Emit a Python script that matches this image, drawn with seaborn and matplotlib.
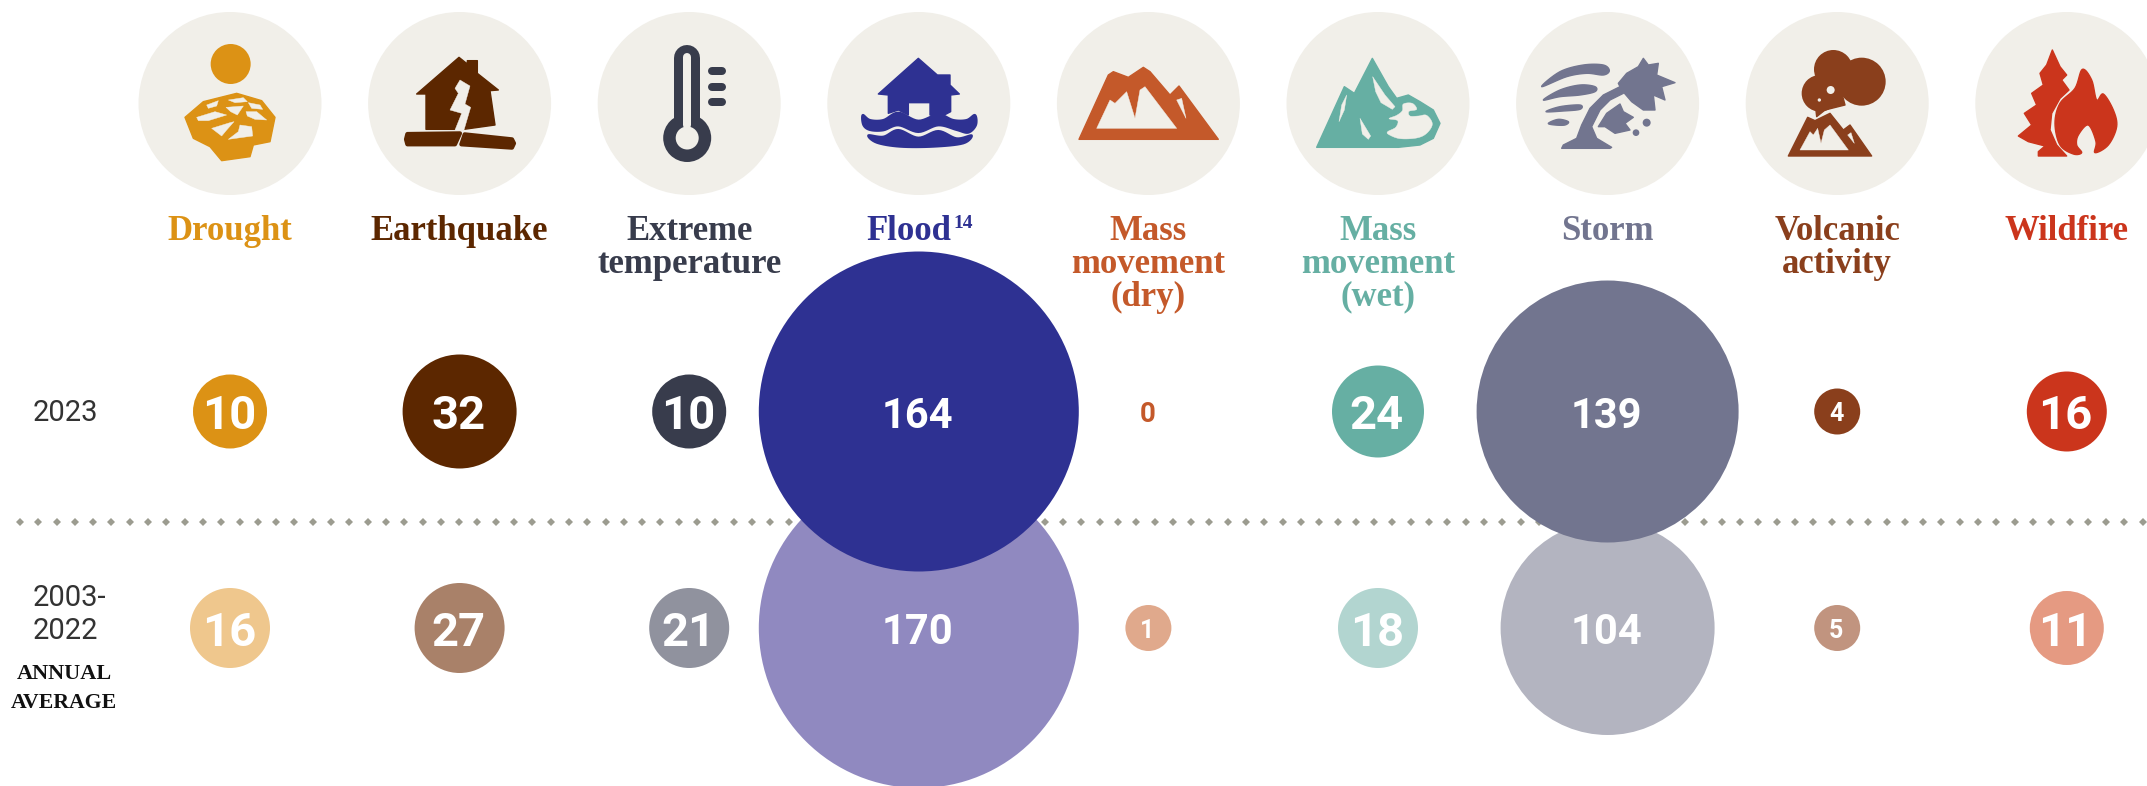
import numpy as np
import pandas as pd
import matplotlib
matplotlib.use('Agg')
import matplotlib.pyplot as plt
from matplotlib.patches import Polygon, Circle
import seaborn as sns

# Chart data
hazards = ['Drought', 'Earthquake', 'Extreme temperature', 'Flood', 'Mass movement (dry)',
           'Mass movement (wet)', 'Storm', 'Volcanic activity', 'Wildfire']
header_lines = [['Drought'], ['Earthquake'], ['Extreme', 'temperature'], ['Flood'],
                ['Mass', 'movement', '(dry)'], ['Mass', 'movement', '(wet)'], ['Storm'],
                ['Volcanic', 'activity'], ['Wildfire']]
values_2023 = [10, 32, 10, 164, 0, 24, 139, 4, 16]
values_avg = [16, 27, 21, 170, 1, 18, 104, 5, 11]

# Bubble radii in pixels, as measured on the reference
radius_2023 = [37, 57, 37, 160, 0, 46, 131, 23, 40]
radius_avg = [40, 45, 40, 160, 23, 40, 107, 23, 37]

dark_colors = ['#DC9215', '#5C2700', '#383C4C', '#2E3192', '#C4592A',
               '#66AFA3', '#72758F', '#8A3F1C', '#CB351C']
light_colors = ['#EFC78D', '#A98169', '#90929E', '#9089C0', '#E0A98C',
                '#B2D5D0', '#B3B4C0', '#C1947F', '#E59A82']
disc_color = '#F1EFE9'

W, H, DPI = 2147, 786, 100
x_first, x_step = 230, 229.6
y_first, y_step = 411.5, 216.5

sns.set_style('white')
plt.rcParams['font.family'] = ['Roboto', 'DejaVu Sans']

fig = plt.figure(figsize=(W / DPI, H / DPI), dpi=DPI, facecolor='white')

# Pixel layer for icons, header text and the divider
pix = fig.add_axes([0, 0, 1, 1], zorder=0)
pix.set_xlim(0, W)
pix.set_ylim(H, 0)
pix.axis('off')

# Data layer for the bubbles
ax = fig.add_axes([0, 0, 1, 1], zorder=1)
ax.patch.set_alpha(0)


def smooth(pts, n=8):
    # closed Catmull-Rom curve through the traced points
    p = np.array(pts, dtype=float)
    out = []
    for i in range(len(p)):
        p0, p1, p2, p3 = p[i - 1], p[i], p[(i + 1) % len(p)], p[(i + 2) % len(p)]
        for t in np.linspace(0, 1, n, endpoint=False):
            out.append(0.5 * (2 * p1 + (p2 - p0) * t + (2 * p0 - 5 * p1 + 4 * p2 - p3) * t ** 2
                              + (3 * p1 - p0 - 3 * p2 + p3) * t ** 3))
    return np.array(out)


def shape(origin, pts, color, curved=False, lw=1.0):
    # pts are traced in 3x crop coordinates, origin is the crop corner
    arr = smooth(pts) if curved else np.array(pts, dtype=float)
    arr = arr / 3 + np.array(origin)
    pix.add_patch(Polygon(arr, closed=True, facecolor=color, edgecolor=color, lw=lw,
                          joinstyle='round', zorder=3))


def dot(origin, x, y, r, color):
    pix.add_patch(Circle((origin[0] + x / 3, origin[1] + y / 3), r / 3, color=color, lw=0, zorder=3))


# Icon discs
for i in range(len(hazards)):
    pix.add_patch(Circle((x_first + i * x_step, 103.5), 91.5, color=disc_color, lw=0, zorder=2))

# Drought
o = (160, 30)
c = dark_colors[0]
dot(o, 212, 102, 60, c)
shape(o, [(75, 262), (130, 215), (230, 190), (305, 212), (345, 262), (330, 335), (280, 345),
          (270, 380), (185, 392), (150, 350), (100, 325)], c)
for crack in [[(140, 225), (175, 212), (170, 228), (145, 235)],
              [(205, 210), (250, 203), (262, 215), (225, 218)],
              [(265, 218), (300, 225), (308, 238), (275, 235)],
              [(198, 232), (250, 228), (232, 255), (212, 245)],
              [(258, 245), (290, 245), (320, 270), (285, 268), (262, 258)],
              [(110, 262), (165, 245), (200, 255), (145, 272), (115, 272)],
              [(155, 295), (210, 278), (222, 275), (200, 300), (185, 318)],
              [(240, 285), (275, 290), (278, 318), (205, 328), (235, 305)]]:
    shape(o, crack, disc_color, lw=0.3)

# Earthquake
o = (390, 30)
c = dark_colors[1]
shape(o, [(80, 192), (207, 82), (232, 102), (232, 92), (262, 92), (262, 130), (325, 180), (300, 182),
          (315, 285), (222, 298), (108, 298), (108, 192)], c)
shape(o, [(210, 150), (240, 168), (225, 222), (242, 232), (222, 300), (195, 300), (215, 250),
          (180, 240), (205, 190), (195, 175)], disc_color, lw=0.3)
shape(o, [(52, 312), (210, 310), (195, 343), (52, 343), (48, 328)], c, lw=3)
shape(o, [(224, 313), (366, 328), (372, 340), (366, 353), (214, 343)], c, lw=3)

# Extreme temperature
cx = x_first + 2 * x_step - 2
c = dark_colors[2]
pix.plot([cx, cx], [58, 130], color=c, lw=26 * 0.72, solid_capstyle='round', zorder=3)
pix.add_patch(Circle((cx, 138), 24, color=c, lw=0, zorder=3))
pix.plot([cx, cx], [57, 125], color=disc_color, lw=8 * 0.72, solid_capstyle='round', zorder=4)
pix.add_patch(Circle((cx, 138), 11.5, color=disc_color, lw=0, zorder=4))
for ty in [71, 87, 102]:
    pix.plot([712, 722], [ty, ty], color=c, lw=8 * 0.72, solid_capstyle='round', zorder=3)

# Flood
o = (850, 30)
c = dark_colors[3]
shape(o, [(85, 192), (205, 85), (262, 135), (300, 135), (300, 165), (328, 192), (302, 195), (302, 245),
          (270, 262), (240, 255), (240, 218), (175, 218), (175, 255), (145, 240), (115, 250), (115, 195)], c)
shape(o, [(38, 255), (60, 270), (100, 270), (145, 248), (205, 272), (265, 253), (310, 270), (350, 270),
          (375, 255), (378, 285), (355, 308), (320, 300), (265, 286), (205, 306), (145, 286), (100, 301),
          (60, 300), (40, 285)], c, curved=True, lw=1.5)
shape(o, [(55, 316), (100, 320), (145, 300), (205, 323), (265, 303), (320, 325), (365, 316), (340, 340),
          (250, 350), (150, 350), (80, 338)], c, curved=True, lw=1.5)

# Mass movement (dry)
o = (1075, 30)
c = dark_colors[4]
shape(o, [(12, 328), (100, 135), (115, 125), (160, 142), (205, 112), (225, 125), (285, 195), (312, 168),
          (430, 328)], c)
shape(o, [(65, 295), (105, 210), (120, 220), (155, 185), (180, 265), (195, 180), (210, 170), (305, 295)],
      disc_color, lw=0.3)
shape(o, [(305, 210), (320, 205), (333, 265)], disc_color, lw=0.3)

# Mass movement (wet)
o = (1305, 30)
c = dark_colors[5]
shape(o, [(35, 352), (118, 170), (148, 190), (202, 85), (250, 170), (275, 205), (310, 195), (345, 215),
          (385, 240), (405, 280), (385, 325), (345, 345), (280, 352)], c)
shape(o, [(125, 195), (118, 240), (102, 275), (110, 225)], disc_color, lw=0.3)
shape(o, [(165, 265), (197, 318), (190, 328), (172, 312)], disc_color, lw=0.3)
shape(o, [(203, 140), (240, 195), (270, 230), (262, 238), (228, 218), (212, 185)], disc_color, lw=0.3)
shape(o, [(295, 222), (322, 220), (335, 238), (312, 244), (315, 258), (340, 258), (365, 256), (382, 282),
          (365, 310), (335, 324), (285, 326), (252, 314), (248, 305), (272, 292), (278, 272), (252, 266),
          (275, 256), (292, 242)], disc_color, curved=True, lw=0.3)

# Storm
o = (1530, 30)
c = dark_colors[6]
shape(o, [(35, 170), (90, 125), (160, 105), (220, 105), (238, 122), (220, 135), (170, 130), (110, 140)], c, curved=True)
shape(o, [(40, 210), (90, 180), (150, 165), (195, 170), (195, 185), (150, 195), (90, 200)], c, curved=True)
shape(o, [(48, 245), (90, 230), (150, 225), (150, 238), (100, 243)], c, curved=True)
shape(o, [(55, 280), (85, 268), (115, 275), (105, 285), (75, 285)], c, curved=True)
shape(o, [(95, 355), (100, 345), (140, 325), (155, 285), (180, 235), (220, 195), (270, 170), (280, 190),
          (240, 210), (210, 240), (185, 290), (200, 325), (245, 352), (240, 355)], c)
shape(o, [(265, 160), (290, 130), (325, 110), (340, 85), (355, 105), (385, 100), (380, 135), (435, 158),
          (395, 170), (405, 210), (370, 195), (375, 240), (340, 240), (305, 215), (275, 180)], c)
shape(o, [(205, 290), (230, 250), (270, 222), (280, 245), (310, 262), (285, 280), (300, 300), (255, 310),
          (225, 290)], c)
dot(o, 350, 278, 12, c)
dot(o, 318, 308, 10, c)

# Volcanic activity
o = (1765, 30)
c = dark_colors[7]
dot(o, 205, 118, 58, c)
dot(o, 290, 155, 72, c)
dot(o, 165, 190, 55, c)
shape(o, [(150, 215), (220, 150), (240, 225), (180, 240), (155, 260)], c)
dot(o, 197, 180, 12, disc_color)
dot(o, 163, 210, 5, disc_color)
shape(o, [(70, 378), (128, 262), (150, 272), (195, 250), (235, 300), (255, 285), (320, 378)], c)
shape(o, [(105, 360), (135, 305), (145, 315), (158, 295), (168, 340), (178, 300), (195, 285), (250, 360)],
      disc_color, lw=0.3)
shape(o, [(248, 315), (258, 308), (268, 340)], disc_color, lw=0.3)

# Wildfire
o = (1995, 30)
c = dark_colors[8]
shape(o, [(172, 60), (195, 110), (215, 135), (200, 150), (222, 180), (195, 205), (170, 250), (165, 300),
          (185, 345), (215, 378), (130, 378), (130, 365), (150, 348), (100, 335), (70, 318), (110, 285),
          (88, 250), (125, 225), (110, 190), (145, 165), (135, 130), (155, 105)], c)
shape(o, [(262, 118), (290, 150), (305, 210), (325, 192), (355, 240), (365, 290), (340, 345), (300, 368),
          (303, 335), (280, 285), (250, 315), (245, 345), (260, 368), (235, 372), (195, 345), (180, 280),
          (195, 220), (240, 175)], c, curved=True)

# Header labels
serif = 'Liberation Serif'
for i, lines in enumerate(header_lines):
    for j, line in enumerate(lines):
        tx = x_first + i * x_step
        if line == 'Flood':
            tx = 909
        pix.text(tx, 232 + j * 32.5, line, color=dark_colors[i], family=serif, weight='bold',
                 fontsize=25, ha='center', va='center')
pix.text(963, 224, '14', color=dark_colors[3], family=serif, weight='bold', fontsize=14,
         ha='center', va='center')

# Row labels
pix.text(33, 413, '2023', color='#333333', fontsize=21, ha='left', va='center')
pix.text(33, 598, '2003-', color='#333333', fontsize=21, ha='left', va='center')
pix.text(33, 631, '2022', color='#333333', fontsize=21, ha='left', va='center')
pix.text(64, 674, 'ANNUAL', color='#111111', family=serif, weight='bold', fontsize=16, ha='center', va='center')
pix.text(64, 703, 'AVERAGE', color='#111111', family=serif, weight='bold', fontsize=15.7, ha='center', va='center')

# Dotted divider
pix.plot(np.arange(20, W, 18.3), np.full(len(np.arange(20, W, 18.3)), 522), linestyle='none', marker='D',
         ms=3.6, mew=0, color='#9C9C90', zorder=1)

# Bubbles, average row first so the 2023 row sits on top
order = np.arange(len(hazards))
avg_df = pd.DataFrame({'hazard': order, 'row': 1, 'value': values_avg, 'radius': radius_avg})
cur_df = pd.DataFrame({'hazard': order, 'row': 0, 'value': values_2023, 'radius': radius_2023})


def area(radius):
    return (2 * np.array(radius, dtype=float) * 72 / DPI) ** 2


sns.scatterplot(data=avg_df, x='hazard', y='row', hue='hazard', palette=light_colors, s=area(radius_avg),
                linewidth=0, legend=False, ax=ax, zorder=2)
sns.scatterplot(data=cur_df, x='hazard', y='row', hue='hazard', palette=dark_colors, s=area(radius_2023),
                linewidth=0, legend=False, ax=ax, zorder=3)

ax.set_xlim(-x_first / x_step, (W - x_first) / x_step)
ax.set_ylim((H - y_first) / y_step, -y_first / y_step)
ax.axis('off')

for df in [avg_df, cur_df]:
    for _, r in df.iterrows():
        label = str(int(r['value']))
        if r['radius'] == 0:
            col, size = dark_colors[int(r['hazard'])], 20
        elif r['radius'] < 30:
            col, size = 'white', 18
        else:
            col, size = 'white', 30 if len(label) == 3 else 34
        ax.text(r['hazard'] - 0.005, r['row'], label, color=col, weight='bold',
                fontsize=size, ha='center', va='center_baseline', zorder=5)

fig.savefig('out.png', dpi=DPI)
